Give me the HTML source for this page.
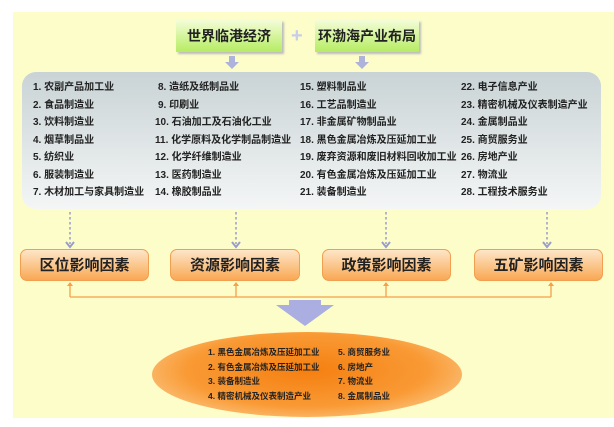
<!DOCTYPE html>
<html><head><meta charset="utf-8"><style>
body{margin:0;width:614px;height:427px;background:#fff;position:relative;overflow:hidden;font-family:"Liberation Sans","Noto Sans CJK SC",sans-serif;}
.a{position:absolute}
.yl{left:13px;top:12px;width:601px;height:406px;background:#fdfdc9}
.gb{top:20px;height:32px;background:linear-gradient(#f4fdd8,#b6ec62);box-shadow:2px 2px 2px #bbb;font-size:14px;font-weight:bold;color:#222;text-align:center;line-height:32px;white-space:nowrap}
.panel{left:22px;top:72px;width:579px;height:137px;border-radius:14px;background:linear-gradient(#c9d3d5,#f4f6f6)}
.t{font-size:10px;font-weight:bold;color:#222;white-space:nowrap;line-height:12px;position:absolute}
.ob{top:249px;height:32px;border:1px solid #f0a050;border-radius:7px;background:linear-gradient(#fde6c8,#f9a854);font-size:15px;font-weight:bold;color:#222;text-align:center;line-height:32px;box-sizing:border-box}
.ell{left:152px;top:332px;width:310px;height:85px;border-radius:50%;background:radial-gradient(ellipse at 50% 45%,#f57f10 0%,#f99a35 55%,#fde0b0 100%)}
.e{font-size:8.5px;font-weight:bold;color:#222;white-space:nowrap}
</style></head><body>
<div class="a yl"></div>
<div class="a gb" style="left:176px;width:106px">世界临港经济</div>
<div class="a gb" style="left:315px;width:104px">环渤海产业布局</div>
<div class="a" style="left:291px;top:29px;color:#c8cde8;font-size:20px;font-weight:bold;line-height:14px">+</div>
<svg class="a" style="left:0;top:0" width="614" height="427">
<g fill="#aeb3dc"><path d="M229 56h6v6h4l-7 7-7-7h4z"/><path d="M359 56h6v6h4l-7 7-7-7h4z"/></g>
<g stroke="#9a9ccc" stroke-width="1.5" stroke-dasharray="2.5,2.5" fill="none">
<line x1="70" y1="212" x2="70" y2="244"/><line x1="236" y1="212" x2="236" y2="244"/><line x1="386" y1="212" x2="386" y2="244"/><line x1="547" y1="212" x2="547" y2="244"/></g>
<g stroke="#9a9ccc" stroke-width="2" fill="none">
<path d="M66 242l4 5 4-5"/><path d="M232 242l4 5 4-5"/><path d="M382 242l4 5 4-5"/><path d="M543 242l4 5 4-5"/></g>
<g stroke="#f5a04a" stroke-width="1.3" fill="none">
<path d="M70 297H551M70 297V283M236 297V283M386 297V283M551 297V283"/></g>
<g fill="#f5a04a"><path d="M67 286l3-4 3 4z"/><path d="M233 286l3-4 3 4z"/><path d="M383 286l3-4 3 4z"/><path d="M548 286l3-4 3 4z"/></g>
<path d="M289 300h32v5h13l-29 21-29-21h13z" fill="#aaaee0"/>
</svg>
<div class="a panel"></div>
<div class="a" style="left:33px;top:82px">
<div class="t" style="left:0;top:0">1. 农副产品加工业</div>
<div class="t" style="left:0;top:17.5px">2. 食品制造业</div>
<div class="t" style="left:0;top:35px">3. 饮料制造业</div>
<div class="t" style="left:0;top:52.5px">4. 烟草制品业</div>
<div class="t" style="left:0;top:70px">5. 纺织业</div>
<div class="t" style="left:0;top:87.5px">6. 服装制造业</div>
<div class="t" style="left:0;top:105px">7. 木材加工与家具制造业</div>
<div class="t" style="left:125px;top:0">8. 造纸及纸制品业</div>
<div class="t" style="left:125px;top:17.5px">9. 印刷业</div>
<div class="t" style="left:122px;top:35px">10. 石油加工及石油化工业</div>
<div class="t" style="left:122px;top:52.5px">11. 化学原料及化学制品制造业</div>
<div class="t" style="left:122px;top:70px">12. 化学纤维制造业</div>
<div class="t" style="left:122px;top:87.5px">13. 医药制造业</div>
<div class="t" style="left:122px;top:105px">14. 橡胶制品业</div>
<div class="t" style="left:267px;top:0">15. 塑料制品业</div>
<div class="t" style="left:267px;top:17.5px">16. 工艺品制造业</div>
<div class="t" style="left:267px;top:35px">17. 非金属矿物制品业</div>
<div class="t" style="left:267px;top:52.5px">18. 黑色金属冶炼及压延加工业</div>
<div class="t" style="left:267px;top:70px">19. 废弃资源和废旧材料回收加工业</div>
<div class="t" style="left:267px;top:87.5px">20. 有色金属冶炼及压延加工业</div>
<div class="t" style="left:267px;top:105px">21. 装备制造业</div>
<div class="t" style="left:428px;top:0">22. 电子信息产业</div>
<div class="t" style="left:428px;top:17.5px">23. 精密机械及仪表制造产业</div>
<div class="t" style="left:428px;top:35px">24. 金属制品业</div>
<div class="t" style="left:428px;top:52.5px">25. 商贸服务业</div>
<div class="t" style="left:428px;top:70px">26. 房地产业</div>
<div class="t" style="left:428px;top:87.5px">27. 物流业</div>
<div class="t" style="left:428px;top:105px">28. 工程技术服务业</div>
</div>
<div class="a ob" style="left:20px;width:129px">区位影响因素</div>
<div class="a ob" style="left:170px;width:130px">资源影响因素</div>
<div class="a ob" style="left:322px;width:129px">政策影响因素</div>
<div class="a ob" style="left:474px;width:129px">五矿影响因素</div>
<div class="a ell"></div>
<div class="a e" style="left:208px;top:346px">1. 黑色金属冶炼及压延加工业</div>
<div class="a e" style="left:208px;top:361px">2. 有色金属冶炼及压延加工业</div>
<div class="a e" style="left:208px;top:375px">3. 装备制造业</div>
<div class="a e" style="left:208px;top:390px">4. 精密机械及仪表制造产业</div>
<div class="a e" style="left:338px;top:346px">5. 商贸服务业</div>
<div class="a e" style="left:338px;top:361px">6. 房地产</div>
<div class="a e" style="left:338px;top:375px">7. 物流业</div>
<div class="a e" style="left:338px;top:390px">8. 金属制品业</div>
</body></html>
